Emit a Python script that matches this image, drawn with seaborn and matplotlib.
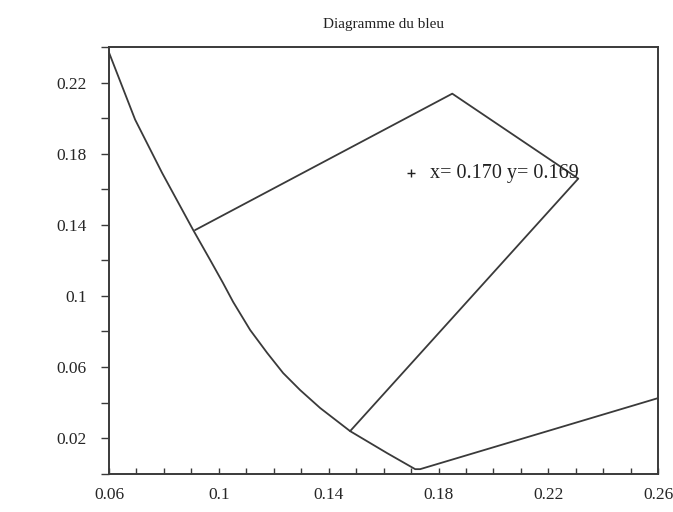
# Diagramme du bleu - recreation
import numpy as np
import pandas as pd
import matplotlib
matplotlib.use('Agg')
import matplotlib.pyplot as plt
import seaborn as sns
from matplotlib.ticker import MultipleLocator, FixedLocator

# courbe (lieu spectral)
curve_x = [0.0600, 0.0695, 0.0793, 0.0906, 0.0968, 0.1015, 0.1052, 0.1114,
           0.1176, 0.1234, 0.1296, 0.1369, 0.1478, 0.1613, 0.1715, 0.1733,
           0.2600]
curve_y = [0.2369, 0.1992, 0.1693, 0.1372, 0.1203, 0.1073, 0.0966, 0.0808,
           0.0679, 0.0566, 0.0470, 0.0369, 0.0239, 0.0115, 0.0025, 0.0025,
           0.0425]

# quadrilatere (gamut)
quad_x = [0.0913, 0.1850, 0.2309, 0.1478]
quad_y = [0.1370, 0.2138, 0.1660, 0.0239]

# point mesure
point_x = [0.170]
point_y = [0.169]
point_label = 'x= 0.170 y= 0.169'

x_ticks = [0.06, 0.1, 0.14, 0.18, 0.22, 0.26]
y_ticks = [0.02, 0.06, 0.1, 0.14, 0.18, 0.22]

sns.set_style('white')
plt.rcParams['font.family'] = ['Liberation Serif', 'DejaVu Serif']

fig = plt.figure(figsize=(6.73, 5.12), dpi=100)
ax = fig.add_axes([0.162, 0.075, 0.816, 0.833])

line_col = '#3a3a3a'
df_curve = pd.DataFrame({'x': curve_x, 'y': curve_y})
sns.lineplot(data=df_curve, x='x', y='y', sort=False, color=line_col, lw=1.3, ax=ax)
df_quad = pd.DataFrame({'x': quad_x, 'y': quad_y})
sns.lineplot(data=df_quad, x='x', y='y', sort=False, color=line_col, lw=1.3, ax=ax)
sns.scatterplot(x=point_x, y=point_y, marker='+', s=30, color='#222222',
                linewidth=1, ax=ax)
ax.text(point_x[0] + 0.007, point_y[0], point_label, fontsize=14.5,
        color='#222222', va='center', ha='left')

ax.set_xlim(0.06, 0.26)
ax.set_ylim(0, 0.24)
ax.xaxis.set_major_locator(FixedLocator(x_ticks))
ax.xaxis.set_minor_locator(MultipleLocator(0.01))
ax.yaxis.set_major_locator(FixedLocator(y_ticks))
ax.yaxis.set_minor_locator(MultipleLocator(0.02))
ax.set_xticklabels(['0.06', '0.1', '0.14', '0.18', '0.22', '0.26'])
ax.set_yticklabels(['0.02', '0.06', '0.1', '0.14', '0.18', '0.22'])
ax.tick_params(axis='x', which='both', direction='in', length=4, width=1,
               color=line_col, labelsize=12.5, pad=10)
ax.tick_params(axis='y', which='both', direction='out', length=6, width=1,
               color=line_col, labelsize=12.5, pad=10)
ax.tick_params(which='both', bottom=True, left=True)
for s in ax.spines.values():
    s.set_color(line_col)
    s.set_linewidth(1.4)

ax.set_xlabel('')
ax.set_ylabel('')
ax.set_title('Diagramme du bleu', fontsize=11, pad=14, color='#222222')

fig.savefig('out.png', dpi=100)
